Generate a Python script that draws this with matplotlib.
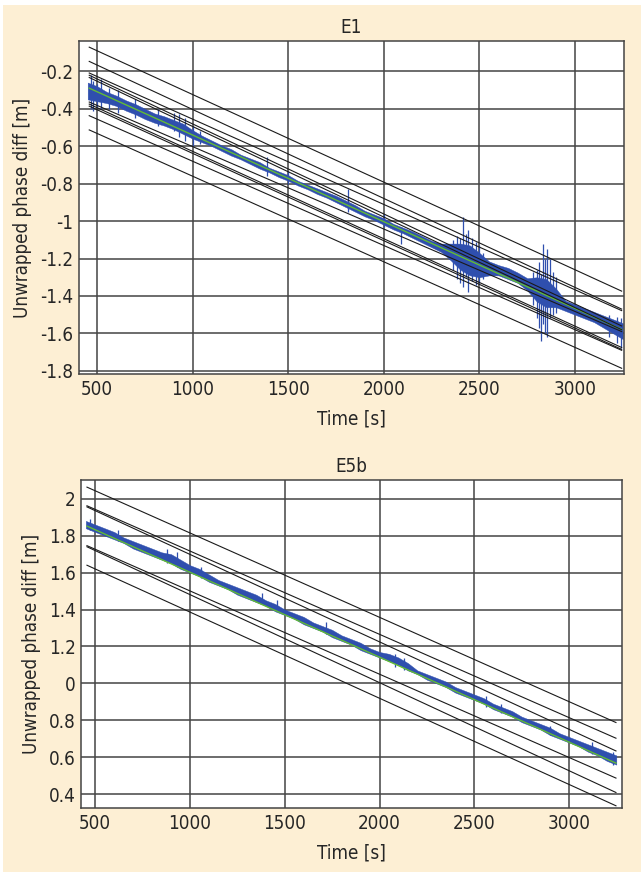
import numpy as np
import matplotlib
matplotlib.use("Agg")
import matplotlib.pyplot as plt
from matplotlib.patches import Rectangle

plt.rcParams['font.family'] = ['DejaVu Sans']
plt.rcParams['font.stretch'] = 'condensed'

# time grid for the blue envelopes (s)
t = [450, 500, 550, 600, 650, 700, 750, 800, 850, 900, 950, 1000, 1050, 1100,
     1150, 1200, 1250, 1300, 1350, 1400, 1450, 1500, 1550, 1600, 1650, 1700,
     1750, 1800, 1850, 1900, 1950, 2000, 2050, 2100, 2150, 2200, 2250, 2300,
     2350, 2400, 2450, 2500, 2550, 2600, 2650, 2700, 2750, 2800, 2850, 2900,
     2950, 3000, 3050, 3100, 3150, 3200, 3250]

# ---- E1 ----
e1_hi = [-0.26, -0.28, -0.31, -0.33, -0.355, -0.375, -0.40, -0.425, -0.44, -0.46,
         -0.48, -0.515, -0.545, -0.57, -0.595, -0.615, -0.645, -0.665, -0.685, -0.715,
         -0.735, -0.755, -0.785, -0.805, -0.825, -0.845, -0.865, -0.89, -0.915, -0.945,
         -0.965, -0.985, -1.015, -1.035, -1.055, -1.08, -1.105, -1.12, -1.12, -1.12,
         -1.13, -1.17, -1.215, -1.235, -1.25, -1.275, -1.305, -1.30, -1.31, -1.36,
         -1.425, -1.445, -1.465, -1.485, -1.505, -1.525, -1.545]
e1_lo = [-0.35, -0.36, -0.37, -0.385, -0.41, -0.43, -0.455, -0.475, -0.49, -0.51,
         -0.535, -0.56, -0.58, -0.60, -0.625, -0.65, -0.67, -0.695, -0.72, -0.74,
         -0.765, -0.785, -0.81, -0.83, -0.855, -0.875, -0.90, -0.925, -0.95, -0.975,
         -0.995, -1.02, -1.045, -1.065, -1.09, -1.115, -1.14, -1.165, -1.21, -1.26,
         -1.29, -1.30, -1.29, -1.29, -1.31, -1.33, -1.37, -1.43, -1.46, -1.46,
         -1.48, -1.50, -1.52, -1.54, -1.57, -1.60, -1.63]
# vertical noise strokes (time, low, high)
e1_spike_t = [465, 480, 500, 520, 560, 610, 700, 820, 900, 930, 960, 1000, 1040,
              1390, 1500, 1810, 2000, 2090, 2360, 2380, 2400, 2415, 2430, 2440,
              2460, 2480, 2500, 2520, 2780, 2800, 2810, 2820, 2835, 2845, 2855,
              2870, 2885, 2900, 3180, 3220, 3240]
e1_spike_lo = [-0.40, -0.41, -0.39, -0.40, -0.40, -0.42, -0.45, -0.49, -0.52,
               -0.55, -0.57, -0.60, -0.59, -0.76, -0.80, -0.95, -1.03, -1.12,
               -1.26, -1.31, -1.33, -1.35, -1.30, -1.38, -1.32, -1.34, -1.33,
               -1.31, -1.45, -1.52, -1.57, -1.64, -1.55, -1.60, -1.62, -1.52,
               -1.50, -1.49, -1.62, -1.65, -1.68]
e1_spike_hi = [-0.22, -0.25, -0.27, -0.24, -0.29, -0.30, -0.35, -0.40, -0.42,
               -0.43, -0.45, -0.49, -0.52, -0.66, -0.73, -0.83, -0.96, -1.03,
               -1.10, -1.08, -1.09, -0.98, -1.07, -1.05, -1.09, -1.11, -1.13,
               -1.17, -1.27, -1.26, -1.22, -1.28, -1.12, -1.20, -1.15, -1.20,
               -1.27, -1.30, -1.50, -1.51, -1.52]
e1_fit_t = [458, 3244]
e1_fit = [-0.29, -1.579]
e1_amb_start = [-0.071, -0.147, -0.209, -0.221, -0.233, -0.364, -0.375, -0.386,
                -0.437, -0.513]
e1_amb_end = [-1.374, -1.470, -1.478, -1.56, -1.58, -1.59, -1.675, -1.685,
              -1.69, -1.786]
e1_yticks = [-0.2, -0.4, -0.6, -0.8, -1.0, -1.2, -1.4, -1.6, -1.8]
e1_ylabels = ['-0.2', '-0.4', '-0.6', '-0.8', '-1', '-1.2', '-1.4', '-1.6', '-1.8']

# ---- E5b ----
e5_hi = [1.88, 1.86, 1.84, 1.82, 1.79, 1.77, 1.75, 1.73, 1.71, 1.70, 1.67,
         1.64, 1.62, 1.59, 1.56, 1.54, 1.52, 1.50, 1.48, 1.45, 1.43, 1.40,
         1.38, 1.36, 1.33, 1.31, 1.29, 1.26, 1.24, 1.22, 1.19, 1.17, 1.16,
         1.14, 1.11, 1.07, 1.05, 1.03, 1.01, 0.98, 0.96, 0.94, 0.92, 0.89,
         0.87, 0.85, 0.82, 0.80, 0.78, 0.76, 0.73, 0.71, 0.69, 0.67, 0.65,
         0.63, 0.61]
e5_lo = [1.84, 1.82, 1.80, 1.78, 1.76, 1.73, 1.71, 1.69, 1.67, 1.65, 1.62,
         1.60, 1.58, 1.55, 1.53, 1.51, 1.48, 1.46, 1.44, 1.42, 1.39, 1.37,
         1.35, 1.32, 1.30, 1.28, 1.25, 1.23, 1.21, 1.18, 1.16, 1.14, 1.12,
         1.10, 1.07, 1.05, 1.02, 1.00, 0.98, 0.95, 0.93, 0.91, 0.89, 0.86,
         0.84, 0.82, 0.79, 0.77, 0.75, 0.72, 0.70, 0.68, 0.66, 0.63, 0.61,
         0.58, 0.56]
e5_spike_t = [470, 620, 880, 930, 1060, 1380, 1460, 1720, 2080, 2130, 2560,
              2640, 2900, 3120, 3230]
e5_spike_lo = [1.83, 1.77, 1.65, 1.63, 1.57, 1.43, 1.39, 1.27, 1.09, 1.07,
               0.87, 0.84, 0.72, 0.62, 0.56]
e5_spike_hi = [1.89, 1.83, 1.73, 1.71, 1.63, 1.49, 1.45, 1.33, 1.16, 1.14,
               0.93, 0.89, 0.77, 0.68, 0.63]
e5_fit_t = [456, 3248]
e5_fit = [1.852, 0.568]
e5_amb_start = [2.063, 1.962, 1.956, 1.746, 1.740, 1.640]
e5_amb_end = [0.788, 0.703, 0.634, 0.487, 0.409, 0.337]
e5_yticks = [2.0, 1.8, 1.6, 1.4, 1.2, 1.0, 0.8, 0.6, 0.4]
e5_ylabels = ['2', '1.8', '1.6', '1.4', '1.2', '0', '0.8', '0.6', '0.4']

xticks = [500, 1000, 1500, 2000, 2500, 3000]

BG = '#fdefd4'
BLUE = '#2f4fae'
GREEN = '#62bb35'
GRID = '#444444'
TXT = '#262626'

fig = plt.figure(figsize=(6.41, 8.72), dpi=100, facecolor='white')
fig.patches.append(Rectangle((3 / 641, 0), 1, 1 - 5 / 872, transform=fig.transFigure,
                             facecolor=BG, edgecolor='none', zorder=-10))

ax1 = fig.add_axes([0.1228, 0.5708, 0.8512, 0.3822])
ax2 = fig.add_axes([0.1268, 0.0734, 0.8430, 0.3758])


def draw(ax, hi, lo, fit_t, fit, a0, a1, xlim, ylim, yticks, ylabels, title):
    ax.set_facecolor('white')
    ax.fill_between(t, lo, hi, color=BLUE, lw=0.3, zorder=2)
    for s, e in zip(a0, a1):
        ax.plot(fit_t, [s, e], color='#1a1a1a', lw=0.8, zorder=4)
    ax.plot(fit_t, fit, color=GREEN, lw=1.0, zorder=3)
    ax.set_xlim(*xlim)
    ax.set_ylim(*ylim)
    ax.set_xticks(xticks)
    ax.set_yticks(yticks)
    ax.set_yticklabels(ylabels)
    ax.grid(True, color=GRID, lw=1.1, zorder=1)
    ax.set_axisbelow(True)
    ax.tick_params(length=0, labelsize=13.5, pad=4, colors=TXT)
    for sp in ax.spines.values():
        sp.set_color(GRID)
        sp.set_linewidth(1.1)
    ax.set_title(title, fontsize=13.5, pad=6, color=TXT)
    ax.set_xlabel('Time [s]', fontsize=13.5, labelpad=8, color=TXT)
    ax.set_ylabel('Unwrapped phase diff [m]', fontsize=13.5, labelpad=6, color=TXT)


draw(ax1, e1_hi, e1_lo, e1_fit_t, e1_fit, e1_amb_start, e1_amb_end,
     (403, 3258), (-1.818, -0.038), e1_yticks, e1_ylabels, 'E1')
ax1.vlines(e1_spike_t, e1_spike_lo, e1_spike_hi, color=BLUE, lw=0.9, zorder=2)

draw(ax2, e5_hi, e5_lo, e5_fit_t, e5_fit, e5_amb_start, e5_amb_end,
     (426, 3278), (0.325, 2.1), e5_yticks, e5_ylabels, 'E5b')
ax2.vlines(e5_spike_t, e5_spike_lo, e5_spike_hi, color=BLUE, lw=0.9, zorder=2)

fig.savefig('out.png', dpi=100, facecolor=fig.get_facecolor())
